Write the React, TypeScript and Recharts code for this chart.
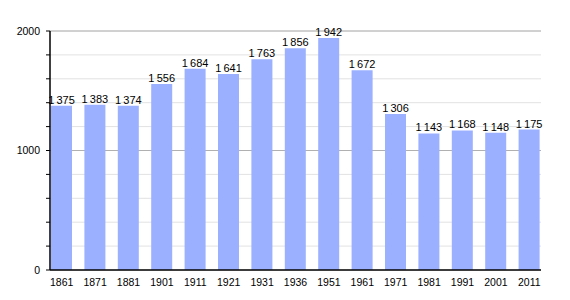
import { BarChart, Bar, XAxis, YAxis, CartesianGrid, LabelList } from 'recharts';

const years = ['1861', '1871', '1881', '1901', '1911', '1921', '1931', '1936', '1951', '1961', '1971', '1981', '1991', '2001', '2011'];
const population = [1375, 1383, 1374, 1556, 1684, 1641, 1763, 1856, 1942, 1672, 1306, 1143, 1168, 1148, 1175];
const yTicks = [0, 200, 400, 600, 800, 1000, 1200, 1400, 1600, 1800, 2000];
const majorTicks = [1000, 2000];

const data = years.map((year, i) => ({ year, value: population[i] }));

const font = 'Liberation Sans, Arial, sans-serif';

const formatValue = (v: number) => {
  const s = String(v);
  return s.length > 3 ? s.slice(0, s.length - 3) + '\u2009' + s.slice(-3) : s;
};

const App = () => {
  return (
    <div style={{ position: 'absolute', left: 0, top: 0, background: '#fff' }}>
      <BarChart
        width={570}
        height={300}
        data={data}
        margin={{ top: 31, right: 29, bottom: 10, left: 10 }}
        barSize={21}
      >
        <CartesianGrid horizontal vertical={false} stroke="#e2e2e2" strokeWidth={1} />
        <CartesianGrid horizontal vertical={false} horizontalValues={majorTicks} stroke="#b0b0b0" strokeWidth={1} />
        <XAxis
          dataKey="year"
          tickLine={false}
          axisLine={{ stroke: '#000', strokeWidth: 1.5 }}
          tick={{ fill: '#000', fontSize: 10.5, fontFamily: font }}
          tickMargin={3}
          height={20}
          padding={{ left: -5, right: -5 }}
          interval={0}
        />
        <YAxis
          domain={[0, 2000]}
          ticks={yTicks}
          width={40}
          interval={0}
          tickSize={4}
          tickLine={{ stroke: '#000' }}
          axisLine={{ stroke: '#000', strokeWidth: 1.5 }}
          tick={{ fill: '#000', fontSize: 10.5, fontFamily: font }}
          tickFormatter={(v: number) => (v % 1000 === 0 ? String(v) : '')}
          tickMargin={6}
        />
        <Bar dataKey="value" fill="#9bb0ff" isAnimationActive={false}>
          <LabelList
            dataKey="value"
            position="top"
            offset={2}
            formatter={(v: number) => formatValue(v)}
            style={{ fill: '#000', fontSize: 11, fontFamily: font }}
          />
        </Bar>
      </BarChart>
    </div>
  );
};

export default App;
